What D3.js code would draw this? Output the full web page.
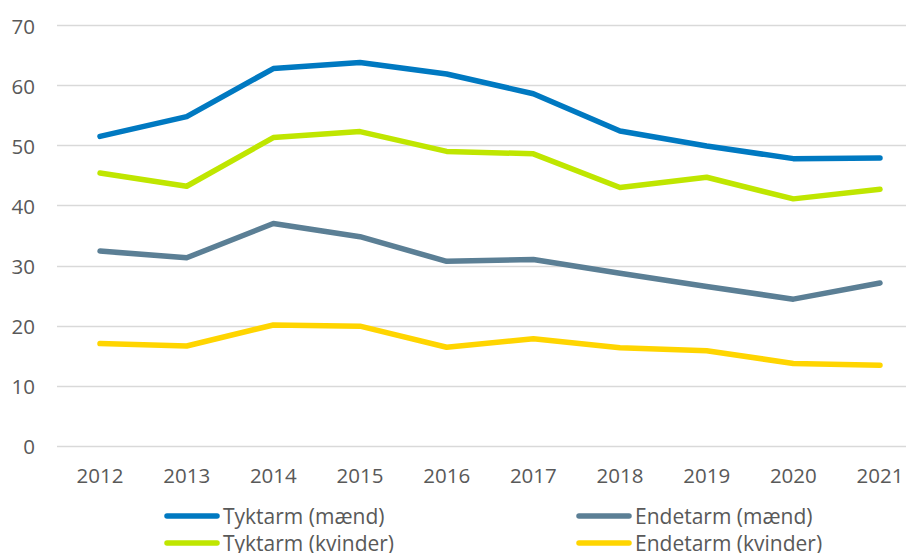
<!DOCTYPE html>
<html>
<head>
<meta charset="utf-8">
<script src="https://cdn.jsdelivr.net/npm/d3@7"></script>
<style>
  body { margin: 0; background: #fff; }
  text { font-family: "Open Sans", sans-serif; fill: #595959; }
</style>
</head>
<body>
<script>
var years = ["2012","2013","2014","2015","2016","2017","2018","2019","2020","2021"];
var tyktarmMaend   = [51.5, 54.8, 62.8, 63.8, 61.9, 58.6, 52.4, 49.9, 47.8, 47.9];
var endetarmMaend  = [32.4, 31.3, 37.0, 34.8, 30.7, 31.0, 28.7, 26.5, 24.4, 27.1];
var tyktarmKvinder = [45.4, 43.2, 51.3, 52.3, 49.0, 48.6, 43.0, 44.7, 41.1, 42.7];
var endetarmKvinder= [17.0, 16.6, 20.1, 19.9, 16.4, 17.8, 16.3, 15.8, 13.7, 13.4];
var yTicks = [0, 10, 20, 30, 40, 50, 60, 70];

var series = [
  {name: "Tyktarm (mænd)", values: tyktarmMaend, color: "#0079c1"},
  {name: "Endetarm (mænd)", values: endetarmMaend, color: "#5b7f95"},
  {name: "Tyktarm (kvinder)", values: tyktarmKvinder, color: "#bfe600"},
  {name: "Endetarm (kvinder)", values: endetarmKvinder, color: "#ffd500"}
];

var width = 911, height = 553;
var svg = d3.select("body").append("svg")
    .attr("width", width)
    .attr("height", height);

// category bands, points in the middle
var x = d3.scalePoint()
    .domain(years)
    .range([100, 880]);

var y = d3.scaleLinear()
    .domain([0, 70])
    .range([445.7, 25.3]);

// gridlines
svg.append("g")
    .selectAll("line")
    .data(yTicks)
    .enter()
    .append("line")
    .attr("x1", 57)
    .attr("x2", 906)
    .attr("y1", function(d){ return Math.round(y(d)) + 0.5 })
    .attr("y2", function(d){ return Math.round(y(d)) + 0.5 })
    .attr("stroke", "#d9d9d9")
    .attr("stroke-width", 1.5);

// y labels
svg.append("g")
    .selectAll("text")
    .data(yTicks)
    .enter()
    .append("text")
    .attr("x", 35)
    .attr("y", function(d){ return y(d) })
    .attr("dy", "0.4em")
    .attr("text-anchor", "end")
    .style("font-size", "20.5px")
    .text(function(d){ return d });

// x labels
svg.append("g")
    .selectAll("text")
    .data(years)
    .enter()
    .append("text")
    .attr("x", function(d){ return x(d) })
    .attr("y", 483)
    .attr("text-anchor", "middle")
    .style("font-size", "20.5px")
    .text(function(d){ return d });

var line = d3.line()
    .x(function(d, i){ return x(years[i]) })
    .y(function(d){ return y(d) });

svg.append("g")
    .selectAll("path")
    .data(series)
    .enter()
    .append("path")
    .attr("d", function(d){ return line(d.values) })
    .attr("fill", "none")
    .attr("stroke", function(d){ return d.color })
    .attr("stroke-width", 5.5)
    .attr("stroke-linecap", "round")
    .attr("stroke-linejoin", "round");

// legend, two columns
var legendPos = [[165, 516], [577, 516], [165, 543], [577, 543]];
var legend = svg.append("g")
    .selectAll("g")
    .data(series)
    .enter()
    .append("g")
    .attr("transform", function(d, i){ return "translate(" + legendPos[i][0] + "," + legendPos[i][1] + ")" });

legend.append("line")
    .attr("x1", 2)
    .attr("x2", 52)
    .attr("stroke", function(d){ return d.color })
    .attr("stroke-width", 5.5)
    .attr("stroke-linecap", "round");

legend.append("text")
    .attr("x", 58)
    .attr("dy", "0.36em")
    .style("font-size", "21px")
    .text(function(d){ return d.name });
</script>
</body>
</html>
